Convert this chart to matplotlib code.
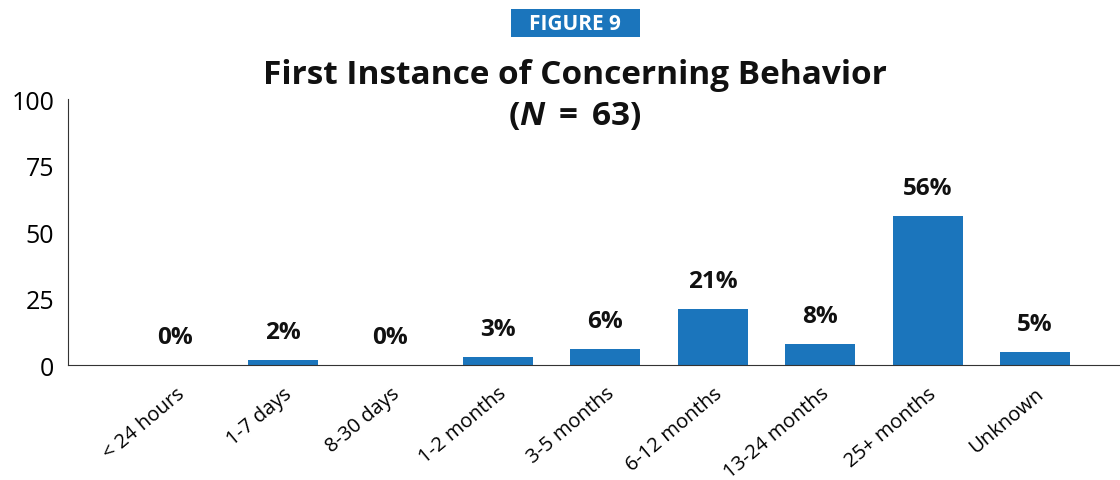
import matplotlib
matplotlib.use("Agg")
import matplotlib.pyplot as plt
from matplotlib.patches import Rectangle

categories = ["< 24 hours", "1-7 days", "8-30 days", "1-2 months", "3-5 months",
              "6-12 months", "13-24 months", "25+ months", "Unknown"]
values = [0, 2, 0, 3, 6, 21, 8, 56, 5]
yticks = [0, 25, 50, 75, 100]

blue = "#1b75bc"
plt.rcParams['font.family'] = ['Open Sans', 'DejaVu Sans']
plt.rcParams['mathtext.fontset'] = 'custom'
plt.rcParams['mathtext.bfit'] = 'Open Sans:bold:italic'
plt.rcParams['mathtext.bf'] = 'Open Sans:bold'
plt.rcParams['mathtext.rm'] = 'Open Sans'

fig = plt.figure(figsize=(11.2, 4.81), dpi=100)
ax = fig.add_axes([0.0607, 0.239, 0.9393, 0.553])

x = list(range(len(categories)))
ax.bar(x, values, width=0.65, color=blue)
for xi, v in zip(x, values):
    ax.annotate(f"{v}%", (xi, v), xytext=(0, 20), textcoords="offset points",
                ha="center", va="center", fontsize=17.5, fontweight="bold", color="#111111")

ax.set_xlim(-1, 8.79)
ax.set_ylim(0, 100)
ax.set_yticks(yticks)
ax.set_xticks(x)
ax.set_xticklabels(categories, rotation=40, ha="right", rotation_mode="anchor", fontsize=14.5)
ax.tick_params(axis="x", length=0, pad=13)
ax.tick_params(axis="y", length=0, labelsize=18, pad=10)
for s in ["top", "right"]:
    ax.spines[s].set_visible(False)
ax.spines["left"].set_color("#333333")
ax.spines["bottom"].set_color("#333333")

# figure label box
fig.patches.append(Rectangle((511 / 1120, 1 - 38 / 481), 129 / 1120, 28 / 481,
                             transform=fig.transFigure, facecolor=blue, edgecolor="none"))
fig.text(575 / 1120, 1 - 24 / 481, "FIGURE 9", ha="center", va="center", fontsize=15,
         color="white", fontweight="bold")
fig.text(575 / 1120, 1 - 75 / 481, "First Instance of Concerning Behavior", ha="center",
         va="center", fontsize=24, fontweight="bold", color="#111111")
fig.text(575 / 1120, 1 - 117 / 481, r"$\mathbf{(}\mathbfit{N}\:\mathbf{=}\:\mathbf{63)}$",
         ha="center", va="center", fontsize=24, color="#111111")

fig.savefig("out.png", dpi=100)
